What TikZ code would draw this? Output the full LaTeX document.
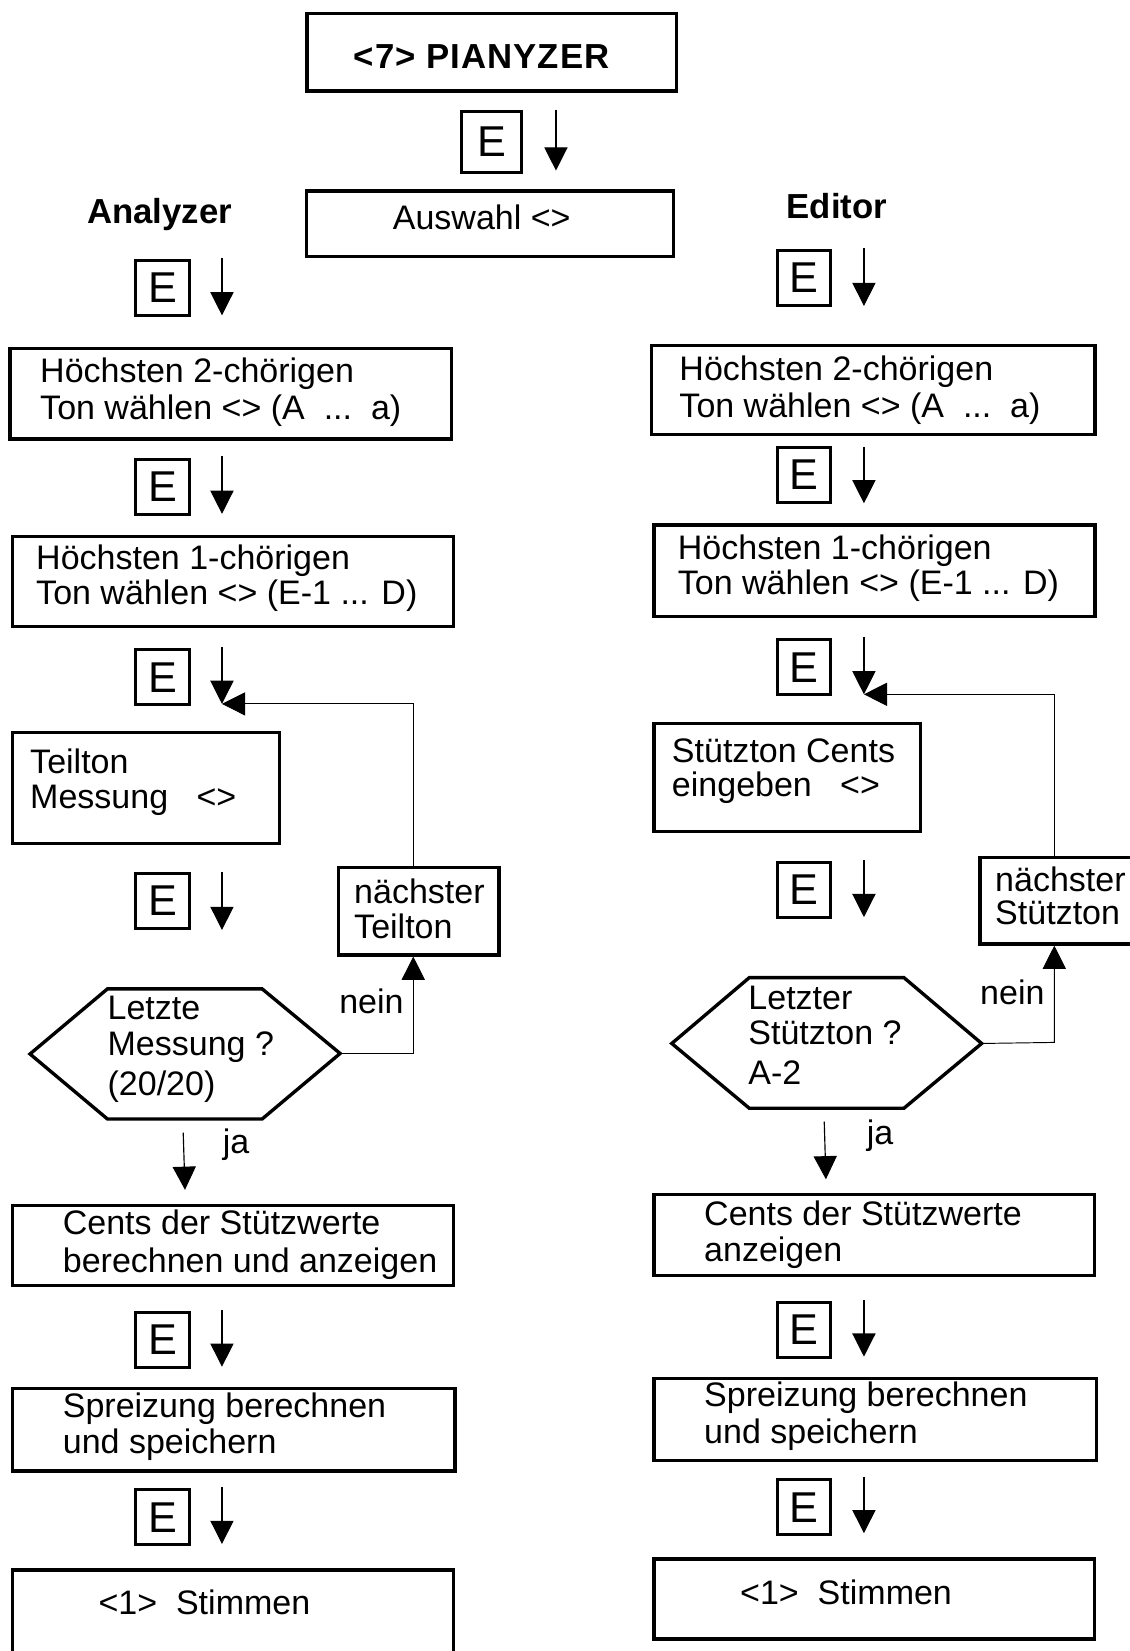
\documentclass[tikz,border=0pt]{standalone}
\usepackage{fontspec}
\setmainfont{Liberation Sans}
\usetikzlibrary{arrows.meta}
\tikzset{
  boxst/.style={draw, line width=3.2pt, rectangle, inner sep=0pt, anchor=north west},
  ebox/.style={draw, line width=3pt, rectangle, inner sep=0pt, minimum width=50.7pt,
    minimum height=52.2pt, anchor=north west, font=\fontsize{41}{41}\selectfont},
  ln/.style={anchor=base west, inner sep=0pt, font=\fontsize{32.3}{34.5}\selectfont},
  bln/.style={inner sep=0pt, font=\fontsize{33}{34}\selectfont\bfseries},
  arr/.style={line width=1.1pt, -{Triangle[length=22pt,width=22pt]}},
  looparr/.style={line width=0.9pt, -{Triangle[length=22pt,width=22pt]}},
  hexst/.style={draw, line width=3.2pt, line join=miter}
}
\begin{document}
\begin{tikzpicture}[x=1pt, y=-1pt]
\useasboundingbox (0,0) rectangle (1073,1568);
\clip (0,0) rectangle (1073,1568);

% ---------- top ----------
\node[boxst, minimum width=351pt, minimum height=74pt] (T) at (290,11) {};
\node[bln, anchor=base] (Tt) at (457.5,64.9) {\addfontfeature{LetterSpace=3}<7> PIANYZER};
\node[ebox, minimum width=57pt, minimum height=57.5pt] (E0) at (436.8,104.5) {E};
\coordinate (a0s) at (528,104); \coordinate (a0e) at (528,162);
\draw[arr] (a0s) -- (a0e);
\node[boxst, minimum width=348.5pt, minimum height=62.4pt] (A) at (289.6,179.8) {};
\node[ln, anchor=base] (At) at (457.5,217.8) {Auswahl <>};
\node[bln, anchor=base west] (anl) at (82.7,212) {Analyzer};
\node[bln, anchor=base west] (edl) at (747,207.4) {Editor};

% ---------- left column ----------
\node[ebox] (EL1) at (127.5,246) {E};
\coordinate (aL1s) at (210.8,245.5); \coordinate (aL1e) at (210.8,299.5);
\draw[arr] (aL1s) -- (aL1e);
\node[boxst, minimum width=419pt, minimum height=86pt] (L1) at (8,329.2) {};
\node[ln] (L1a) at (38,363.4) {Höchsten 2-chörigen};
\node[ln] (L1b) at (38,398.2) {Ton wählen <> (A\ \ ...\ \ a)};

\node[ebox] (EL2) at (127.5,434.6) {E};
\coordinate (aL2s) at (210.8,433); \coordinate (aL2e) at (210.8,488);
\draw[arr] (aL2s) -- (aL2e);
\node[boxst, minimum width=418.6pt, minimum height=85.5pt] (L2) at (10.4,508) {};
\node[ln] (L2a) at (34.2,541.3) {Höchsten 1-chörigen};
\node[ln] (L2b) at (34.2,574.5) {Ton wählen <> (E-1 ... D)};

\node[ebox] (EL3) at (127.5,615.7) {E};
\coordinate (aL3s) at (210.8,614); \coordinate (aL3e) at (210.8,668.5);
\draw[arr] (aL3s) -- (aL3e);
\node[boxst, minimum width=253.3pt, minimum height=105pt] (L3) at (10.4,694.2) {};
\node[ln] (L3a) at (28.5,734.4) {Teilton};
\node[ln] (L3b) at (28.5,767.6) {Messung\ \ \ <>};

\node[ebox] (EL4) at (127.5,827.8) {E};
\coordinate (aL4s) at (210.8,828.4); \coordinate (aL4e) at (210.8,883.2);
\draw[arr] (aL4s) -- (aL4e);

\node[boxst, minimum width=152.6pt, minimum height=83.3pt] (NT) at (319.7,822) {};
\node[ln] (NTa) at (336.2,857.9) {nächster};
\node[ln] (NTb) at (336.2,891) {Teilton};

\coordinate (hL1) at (28.5,1001);
\coordinate (hL2) at (102,939.2);
\coordinate (hL3) at (249,939.2);
\coordinate (hL4) at (323,1000.5);
\coordinate (hL5) at (249,1062.7);
\coordinate (hL6) at (102,1062.7);
\draw[hexst] (hL1) -- (hL2) -- (hL3) -- (hL4) -- (hL5) -- (hL6) -- cycle;
\node[ln] (HLa) at (102,968.7) {Letzte};
\node[ln] (HLb) at (102,1002.8) {Messung ?};
\node[ln] (HLc) at (102,1040) {(20/20)};
\node[ln] (neinL) at (322,962.3) {nein};

\coordinate (kL) at (392.5,1000.5);
\draw[looparr] (hL4) -- (kL) -- (kL |- NT.south);
\draw[looparr] (kL |- NT.north) -- (kL |- aL3e) -- (aL3e);

\coordinate (jLs) at (174,1075.7); \coordinate (jLe) at (175.7,1130);
\draw[arr] (jLs) -- (jLe);
\node[ln] (jaL) at (211.5,1095.3) {ja};

\node[boxst, minimum width=418.6pt, minimum height=76.5pt] (L5) at (10.4,1143) {};
\node[ln] (L5a) at (59.5,1172.8) {Cents der Stützwerte};
\node[ln] (L5b) at (59.5,1208.6) {berechnen und anzeigen};

\node[ebox] (EL5) at (127.5,1245) {E};
\coordinate (aL5s) at (210.8,1244); \coordinate (aL5e) at (210.8,1298);
\draw[arr] (aL5s) -- (aL5e);
\node[boxst, minimum width=420pt, minimum height=78.5pt] (L6) at (10.4,1317) {};
\node[ln] (L6a) at (59.5,1346.3) {Spreizung berechnen};
\node[ln] (L6b) at (59.5,1380.2) {und speichern};

\node[ebox] (EL6) at (127.5,1413.4) {E};
\coordinate (aL6s) at (210.8,1411.8); \coordinate (aL6e) at (210.8,1466.3);
\draw[arr] (aL6s) -- (aL6e);
\node[boxst, minimum width=418.6pt, minimum height=110pt] (L7) at (10.4,1489.4) {};
\node[ln] (L7a) at (93.4,1533.7) {<1>\ \ Stimmen};

% ---------- right column ----------
\node[ebox] (ER1) at (736.7,236.5) {E};
\coordinate (aR1s) at (820.5,235.8); \coordinate (aR1e) at (820.5,290.6);
\draw[arr] (aR1s) -- (aR1e);
\node[boxst, minimum width=421pt, minimum height=84.2pt] (R1) at (617.3,326.7) {};
\node[ln] (R1a) at (645.1,360.9) {Höchsten 2-chörigen};
\node[ln] (R1b) at (645.1,396.3) {Ton wählen <> (A\ \ ...\ \ a)};

\node[ebox] (ER2) at (736.7,423.2) {E};
\coordinate (aR2s) at (820.5,424.2); \coordinate (aR2e) at (820.5,478);
\draw[arr] (aR2s) -- (aR2e);
\node[boxst, minimum width=418.8pt, minimum height=87pt] (R2) at (619.5,497) {};
\node[ln] (R2a) at (643.6,531.8) {Höchsten 1-chörigen};
\node[ln] (R2b) at (643.6,565) {Ton wählen <> (E-1 ... D)};

\node[ebox] (ER3) at (736.7,606.2) {E};
\coordinate (aR3s) at (820.5,604.6); \coordinate (aR3e) at (820.5,659.4);
\draw[arr] (aR3s) -- (aR3e);
\node[boxst, minimum width=253.3pt, minimum height=102.6pt] (R3) at (619.5,685.6) {};
\node[ln] (R3a) at (638,724) {Stützton Cents};
\node[ln] (R3b) at (638,756.6) {eingeben\ \ \ <>};

\node[ebox] (ER4) at (736.7,817.7) {E};
\coordinate (aR4s) at (820.5,816.7); \coordinate (aR4e) at (820.5,871);
\draw[arr] (aR4s) -- (aR4e);

\node[boxst, minimum width=170pt, minimum height=82.3pt] (NS) at (929,812.6) {};
\node[ln] (NSa) at (945,846.8) {nächster};
\node[ln] (NSb) at (945,878.4) {Stützton};

\coordinate (hR1) at (638,991);
\coordinate (hR2) at (711.6,928.5);
\coordinate (hR3) at (858.5,928.5);
\coordinate (hR4) at (932.3,991);
\coordinate (hR5) at (858.5,1052.5);
\coordinate (hR6) at (711.6,1052.5);
\draw[hexst] (hR1) -- (hR2) -- (hR3) -- (hR4) -- (hR5) -- (hR6) -- cycle;
\node[ln] (HRa) at (710.6,959) {Letzter};
\node[ln] (HRb) at (710.6,992.4) {Stützton ?};
\node[ln] (HRc) at (710.6,1030.4) {A-2};
\node[ln] (neinR) at (930.7,954.4) {nein};

\coordinate (kR) at (1001.3,990);
\draw[looparr] (hR4) -- (kR) -- (kR |- NS.south);
\draw[looparr] (kR |- NS.north) -- (kR |- aR3e) -- (aR3e);

\coordinate (jRs) at (782.8,1065.2); \coordinate (jRe) at (784.4,1120);
\draw[arr] (jRs) -- (jRe);
\node[ln] (jaR) at (823,1087.4) {ja};

\node[boxst, minimum width=418.5pt, minimum height=77pt] (R5) at (619.5,1133) {};
\node[ln] (R5a) at (668.6,1164.3) {Cents der Stützwerte};
\node[ln] (R5b) at (668.6,1198) {anzeigen};

\node[ebox] (ER5) at (736.7,1235.5) {E};
\coordinate (aR5s) at (820.5,1234.6); \coordinate (aR5e) at (820.5,1288.4);
\draw[arr] (aR5s) -- (aR5e);
\node[boxst, minimum width=420.5pt, minimum height=78.3pt] (R6) at (619.5,1307.3) {};
\node[ln] (R6a) at (668.6,1336) {Spreizung berechnen};
\node[ln] (R6b) at (668.6,1370.7) {und speichern};

\node[ebox] (ER6) at (736.7,1404) {E};
\coordinate (aR6s) at (820.5,1402.3); \coordinate (aR6e) at (820.5,1456.1);
\draw[arr] (aR6s) -- (aR6e);
\node[boxst, minimum width=418.5pt, minimum height=76pt] (R7) at (619.5,1479) {};
\node[ln] (R7a) at (702.8,1524) {<1>\ \ Stimmen};
\end{tikzpicture}
\end{document}
